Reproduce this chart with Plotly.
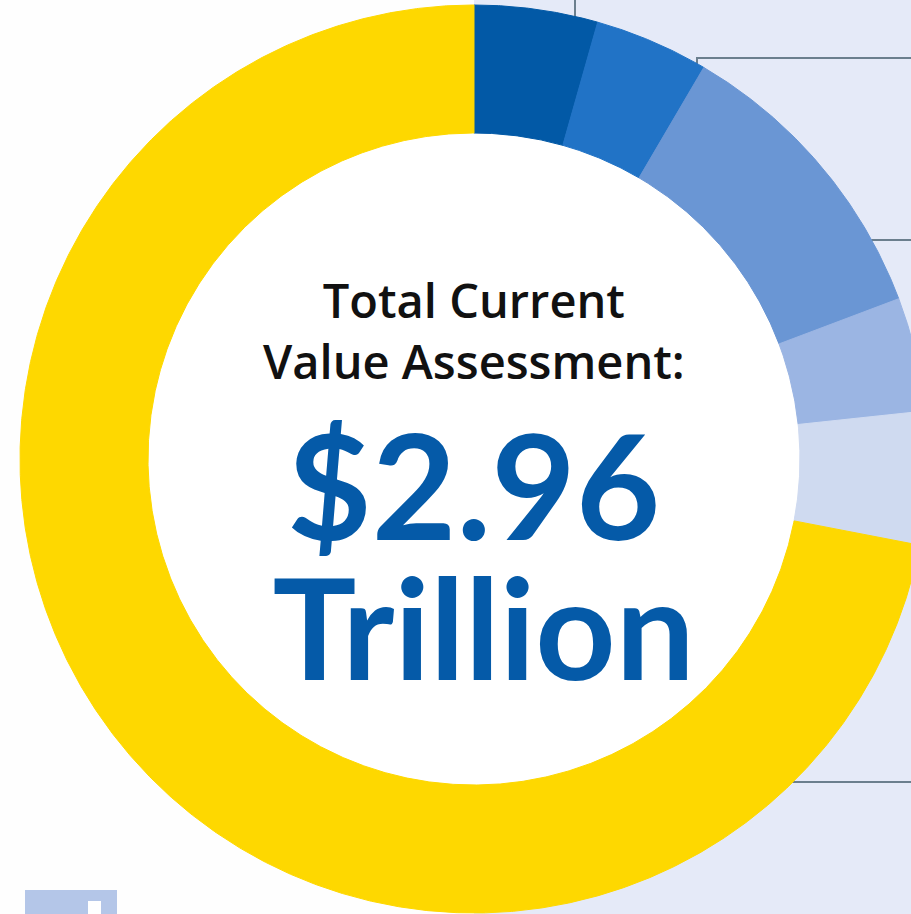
import numpy as np
import plotly.graph_objects as go

# ---- data ----
categories = ["Segment A", "Segment B", "Segment C", "Segment D", "Segment E", "Segment F"]
values_trillion = [0.13, 0.12, 0.32, 0.12, 0.14, 2.13]
slice_colors = ["#0259a6", "#2173c6", "#6a96d4", "#9bb5e3", "#cfdaf0", "#fed800"]
title_lines = ["Total Current", "Value Assessment:"]
unit_label = "Trillion"

# ---- geometry (layout, pixel-derived) ----
W, H = 911, 914
CX, CY, R_OUT, R_IN = 474, 459, 454, 326
SCALE = R_OUT  # px per data unit
r_in = R_IN / R_OUT


def px(x):
    return (x - CX) / SCALE


def py(y):
    return (CY - y) / SCALE


vals = np.array(values_trillion, dtype=float)
total = vals.sum()
ends = np.cumsum(vals) / total * 2 * np.pi
starts = np.concatenate([[0.0], ends[:-1]])

fig = go.Figure()
for name, v, a0, a1, col in zip(categories, vals, starts, ends, slice_colors):
    n = max(int(np.degrees(a1 - a0) * 4), 8)
    t = np.linspace(a0, a1, n)
    xo, yo = np.sin(t), np.cos(t)
    xi, yi = r_in * np.sin(t[::-1]), r_in * np.cos(t[::-1])
    xs = np.concatenate([xo, xi, xo[:1]])
    ys = np.concatenate([yo, yi, yo[:1]])
    fig.add_trace(go.Scatter(
        x=xs, y=ys, mode="lines", fill="toself", fillcolor=col,
        line=dict(color=col, width=1), name=name,
        hoverinfo="text", text=f"{name}: ${v:.2f}T", hoveron="fills",
    ))

line_col = "#6b7f8e"
shapes = [
    # right-hand light background
    dict(type="rect", xref="x", yref="paper", x0=px(CX), x1=px(W + 20), y0=0, y1=1,
         fillcolor="#e5eaf8", line=dict(width=0), layer="below"),
    # white hole
    dict(type="circle", xref="x", yref="y", x0=-r_in, x1=r_in, y0=-r_in, y1=r_in,
         fillcolor="white", line=dict(width=0), layer="below"),
    # leader lines
    dict(type="line", x0=px(575), x1=px(575), y0=py(-2), y1=py(30),
         line=dict(color=line_col, width=2), layer="below"),
    dict(type="path", path=f"M {px(697)} {py(80)} L {px(697)} {py(58)} L {px(915)} {py(58)}",
         line=dict(color=line_col, width=2), layer="below"),
    dict(type="line", x0=px(850), x1=px(915), y0=py(240), y1=py(240),
         line=dict(color=line_col, width=2), layer="below"),
    dict(type="line", x0=px(780), x1=px(915), y0=py(782), y1=py(782),
         line=dict(color=line_col, width=2), layer="below"),
    # bottom-left icon fragment
    dict(type="rect", x0=px(25), x1=px(117), y0=py(890), y1=py(920),
         fillcolor="#b4c6e8", line=dict(width=0), layer="above"),
    dict(type="rect", x0=px(88), x1=px(101), y0=py(901), y1=py(920),
         fillcolor="white", line=dict(width=0), layer="above"),
]

big_text = (
    f'<span style="font-size:146px">${total:.2f}</span><br>'
    f'<span style="font-size:80px">\u00a0</span>'
    f'<span style="font-size:140px">{unit_label}</span>'
)

annotations = [
    dict(x=0, y=py(330), text="<br>".join(title_lines), showarrow=False,
         xanchor="center", yanchor="middle", align="center",
         font=dict(family="Open Sans", size=47, color="#111111", weight=600)),
    dict(x=0, y=py(553), text=big_text, showarrow=False,
         xanchor="center", yanchor="middle", align="center",
         font=dict(family="Lato", size=107.7, color="#055aa8", weight="bold")),
]

fig.update_layout(
    width=W, height=H,
    margin=dict(l=0, r=0, t=0, b=0),
    paper_bgcolor="#fefefe", plot_bgcolor="#fefefe",
    showlegend=False,
    shapes=shapes, annotations=annotations,
    xaxis=dict(range=[px(0), px(W)], visible=False, fixedrange=True),
    yaxis=dict(range=[py(H), py(0)], visible=False, fixedrange=True),
)

fig.write_html(
    "out.html",
    config={"displayModeBar": False},
    post_script="document.body.style.margin='0';document.body.style.overflow='hidden';",
)
